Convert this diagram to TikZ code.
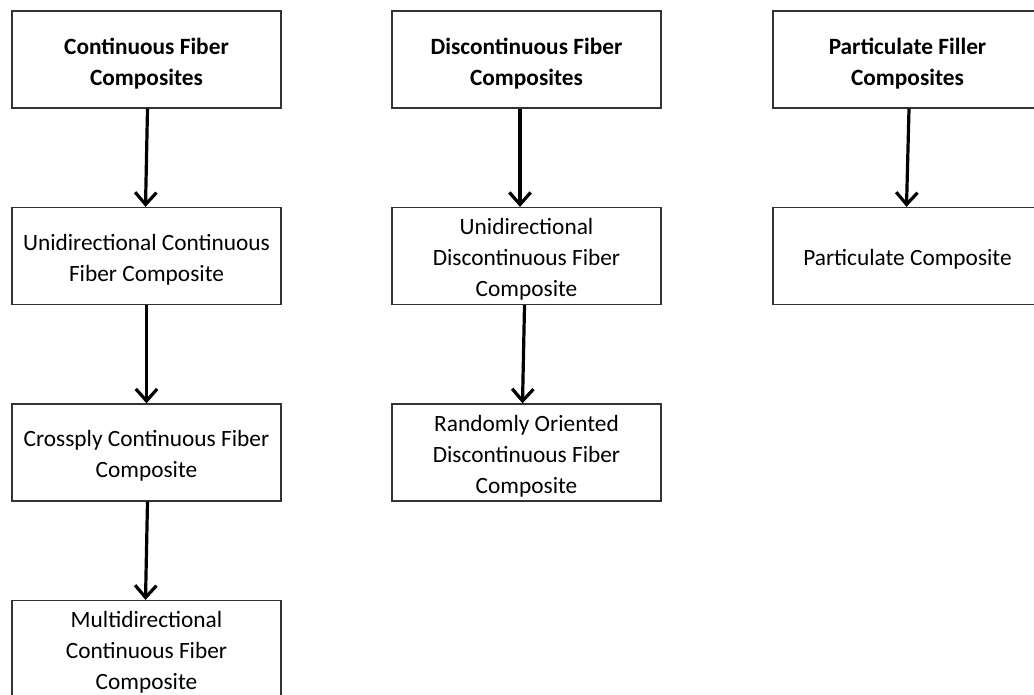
\documentclass[tikz,border=0pt]{standalone}
\usepackage{fontspec}
\setmainfont{Carlito}
\usetikzlibrary{arrows.meta}
\tikzset{
  box/.style={draw=black!80, line width=1pt, minimum width=269*0.75pt, minimum height=97*0.75pt, inner sep=0pt},
  txt/.style={align=center, font=\fontsize{17.5pt}{23.25pt}\selectfont, inner sep=0pt, text=black, yshift=-2.8pt},
  htxt/.style={txt, font=\fontsize{17.5pt}{23.25pt}\selectfont\bfseries},
  arr/.style={line width=2.4pt, -{Straight Barb[length=9pt,width=16pt,line width=2.4pt]}}
}
\begin{document}
\begin{tikzpicture}[x=0.75pt,y=-0.75pt]
\useasboundingbox (0,0) rectangle (1034,694);
\begin{scope}
\clip (0,0) rectangle (1034,694);
\node[box, label={[htxt]center:{Continuous Fiber\\Composites}}] (a1) at (146.5,59.5) {};
\node[box, label={[txt]center:{Unidirectional Continuous\\Fiber Composite}}] (a2) at (146.5,256) {};
\node[box, label={[txt]center:{Crossply Continuous Fiber\\Composite}}] (a3) at (146.5,452.5) {};
\node[box, label={[txt]center:{Multidirectional\\Continuous Fiber\\Composite}}] (a4) at (146.5,649) {};
\node[box, label={[htxt]center:{Discontinuous Fiber\\Composites}}] (b1) at (526.5,59.5) {};
\node[box, label={[txt]center:{Unidirectional\\Discontinuous Fiber\\Composite}}] (b2) at (526.5,256) {};
\node[box, label={[txt]center:{Randomly Oriented\\Discontinuous Fiber\\Composite}}] (b3) at (526.5,452.5) {};
\node[box, label={[htxt]center:{Particulate Filler\\Composites}}] (c1) at (907.5,59.5) {};
\node[box, label={[txt]center:{Particulate Composite}}] (c2) at (907.5,256) {};
\end{scope}
\draw[arr] ([xshift=0.75pt]a1.south) -- ([xshift=-0.75pt]a2.north);
\draw[arr] (a2.south) -- (a3.north);
\draw[arr] ([xshift=0.75pt]a3.south) -- ([xshift=-0.75pt]a4.north);
\draw[arr] ([xshift=-6.5*0.75pt]b1.south) -- ([xshift=-6.5*0.75pt]b2.north);
\draw[arr] ([xshift=-2*0.75pt]b2.south) -- ([xshift=-4*0.75pt]b3.north);
\draw[arr] ([xshift=1.5*0.75pt]c1.south) -- ([xshift=-0.75pt]c2.north);
\end{tikzpicture}
\end{document}
